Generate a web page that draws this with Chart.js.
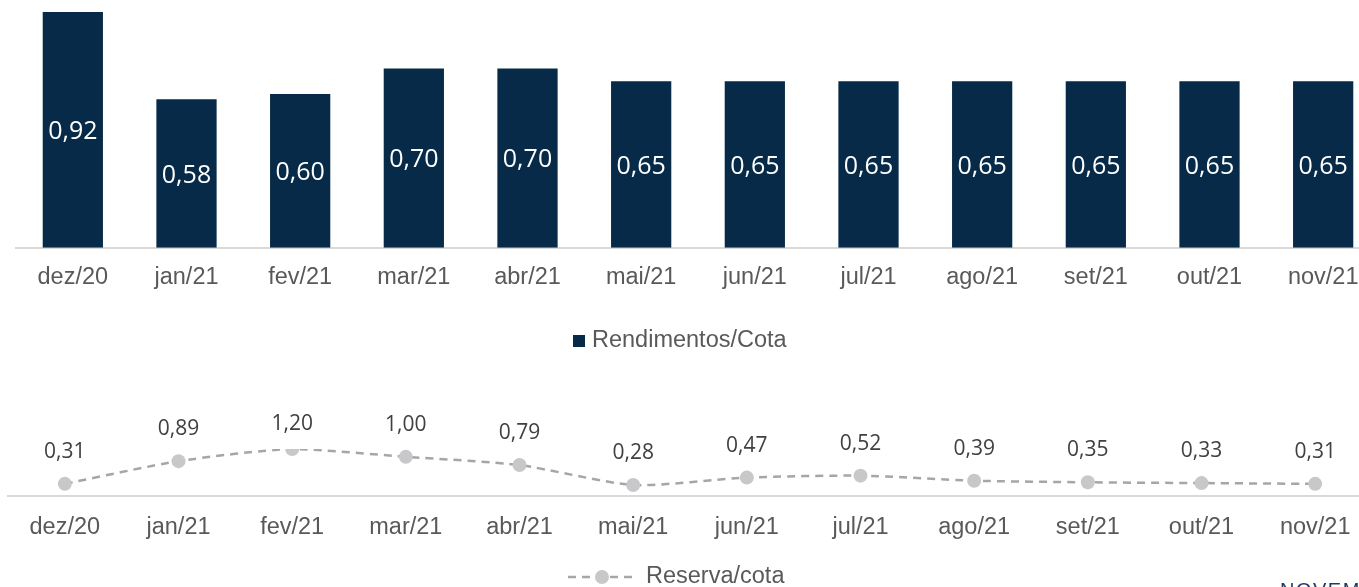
<!DOCTYPE html>
<html>
<head>
<meta charset="utf-8">
<script src="https://cdn.jsdelivr.net/npm/chart.js@4.4.0/dist/chart.umd.min.js"></script>
<style>
    html, body { margin: 0; padding: 0; background: #fff; width: 1359px; height: 587px; overflow: hidden; }
    #wrap { position: relative; width: 1359px; height: 587px; overflow: hidden; }
    .box { position: absolute; left: 0; width: 1380px; }
    #topBox { top: 0; height: 370px; }
    #bottomBox { top: 380px; height: 207px; }
    #marca { position: absolute; left: 1280px; top: 579px; font: 20px 'Liberation Sans', Arial, sans-serif; letter-spacing: 1.5px; color: #1f3a5f; white-space: nowrap; }
</style>
</head>
<body>
<div id="wrap">
    <div class="box" id="topBox"><canvas id="rendChart"></canvas></div>
    <div class="box" id="bottomBox"><canvas id="reservaChart"></canvas></div>
    <div id="marca">NOVEMBRO</div>
</div>
<script>
// dados
const meses = ['dez/20', 'jan/21', 'fev/21', 'mar/21', 'abr/21', 'mai/21', 'jun/21', 'jul/21', 'ago/21', 'set/21', 'out/21', 'nov/21'];
const rendimentos = [0.92, 0.58, 0.60, 0.70, 0.70, 0.65, 0.65, 0.65, 0.65, 0.65, 0.65, 0.65];
const reserva = [0.31, 0.89, 1.20, 1.00, 0.79, 0.28, 0.47, 0.52, 0.39, 0.35, 0.33, 0.31];

const navy = '#062a47';
const gridGray = '#d9d9d9';
const textGray = '#595959';
const lineGray = '#a6a6a6';
const dotGray = '#c8c8ca';
const axisFont = { family: "'Liberation Sans', Arial, sans-serif", size: 23.5 };

const fmt = v => v.toFixed(2).replace('.', ',');

// rótulos dentro das barras / acima dos pontos
const valueLabels = {
    id: 'valueLabels',
    afterDatasetsDraw(chart, args, opts) {
        const ctx = chart.ctx;
        const meta = chart.getDatasetMeta(0);
        const data = chart.data.datasets[0].data;
        ctx.save();
        ctx.font = opts.font;
        ctx.fillStyle = opts.color;
        ctx.textAlign = 'center';
        ctx.textBaseline = 'middle';
        meta.data.forEach((el, i) => {
            let y;
            if (opts.mode === 'inside') {
                y = (el.y + el.base) / 2 + 2;
            } else {
                y = Math.max(el.y - 32, chart.chartArea.top - 25);
            }
            ctx.fillText(fmt(data[i]), el.x, y);
        });
        ctx.restore();
    }
};

// legenda no estilo do Excel
const excelLegend = {
    id: 'excelLegend',
    afterDraw(chart, args, opts) {
        const ctx = chart.ctx;
        ctx.save();
        ctx.font = "23.5px 'Liberation Sans', Arial, sans-serif";
        ctx.textBaseline = 'middle';
        ctx.fillStyle = textGray;
        const y = opts.y;
        if (opts.type === 'box') {
            ctx.fillStyle = navy;
            ctx.fillRect(opts.x, y - 6, 12, 12);
            ctx.fillStyle = textGray;
            ctx.fillText(opts.text, opts.x + 19, y);
        } else {
            ctx.strokeStyle = lineGray;
            ctx.lineWidth = 2.5;
            ctx.setLineDash([8, 6]);
            ctx.beginPath();
            ctx.moveTo(opts.x, y);
            ctx.lineTo(opts.x + 68, y);
            ctx.stroke();
            ctx.setLineDash([]);
            ctx.fillStyle = dotGray;
            ctx.beginPath();
            ctx.arc(opts.x + 34, y, 7, 0, Math.PI * 2);
            ctx.fill();
            ctx.fillStyle = textGray;
            ctx.fillText(opts.text, opts.x + 78, y);
        }
        ctx.restore();
    }
};

new Chart(document.getElementById('rendChart'), {
    type: 'bar',
    data: {
        labels: meses,
        datasets: [{
            label: 'Rendimentos/Cota',
            data: rendimentos,
            backgroundColor: navy,
            borderWidth: 0,
            barPercentage: 0.53,
            categoryPercentage: 1
        }]
    },
    options: {
        responsive: true,
        maintainAspectRatio: false,
        animation: false,
        layout: { padding: { top: 12, left: 16, right: 0, bottom: 62 } },
        plugins: {
            legend: { display: false },
            tooltip: { enabled: false },
            valueLabels: { mode: 'inside', color: '#ffffff', font: "25px 'Open Sans', sans-serif" },
            excelLegend: { type: 'box', x: 573, y: 341, text: 'Rendimentos/Cota' }
        },
        scales: {
            x: {
                grid: { display: false, drawTicks: false },
                border: { display: true, color: gridGray, width: 2 },
                ticks: { color: textGray, font: axisFont, padding: 16, maxRotation: 0 }
            },
            y: { display: false, min: 0, max: 0.92 }
        }
    },
    plugins: [valueLabels, excelLegend]
});

new Chart(document.getElementById('reservaChart'), {
    type: 'line',
    data: {
        labels: meses,
        datasets: [{
            label: 'Reserva/cota',
            data: reserva,
            borderColor: lineGray,
            borderWidth: 2.5,
            borderDash: [8, 6],
            tension: 0.22,
            pointRadius: 7,
            pointBackgroundColor: dotGray,
            pointBorderWidth: 0,
            fill: false
        }]
    },
    options: {
        responsive: true,
        maintainAspectRatio: false,
        animation: false,
        layout: { padding: { top: 69, left: 8, right: 8, bottom: 44 } },
        plugins: {
            legend: { display: false },
            tooltip: { enabled: false },
            valueLabels: { mode: 'above', color: '#404040', font: "21px 'Open Sans', sans-serif" },
            excelLegend: { type: 'line', x: 568, y: 197, text: 'Reserva/cota' }
        },
        scales: {
            x: {
                offset: true,
                grid: { display: false, drawTicks: false },
                border: { display: true, color: gridGray, width: 2 },
                ticks: { color: textGray, font: axisFont, padding: 17, maxRotation: 0 }
            },
            y: { display: false, min: 0, max: 1.2 }
        }
    },
    plugins: [valueLabels, excelLegend]
});
</script>
</body>
</html>
